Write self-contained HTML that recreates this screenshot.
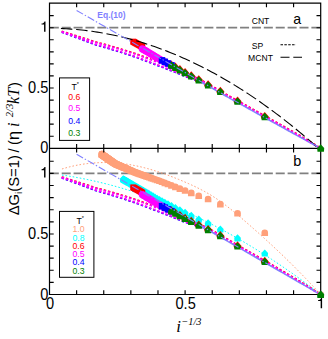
<!DOCTYPE html>
<html><head><meta charset="utf-8"><title>chart</title>
<style>
html,body{margin:0;padding:0;background:#fff;}
body{width:328px;height:339px;overflow:hidden;}
svg{display:block;font-family:"Liberation Sans",sans-serif;}
.si{font-family:"Liberation Serif",serif;font-style:italic;}
</style></head><body>
<svg width="328" height="339" viewBox="0 0 328 339"><defs><clipPath id="ca"><rect x="45.50" y="3.10" width="279.20" height="149.20"/></clipPath><clipPath id="cb"><rect x="45.50" y="148.30" width="279.20" height="150.20"/></clipPath></defs>
<g clip-path="url(#ca)">
<path d="M49.50 27.70 H320.70" stroke="#808080" stroke-width="1.8" stroke-dasharray="9.03 2.86" stroke-dashoffset="-0.3" fill="none"/>
<path d="M61.70 31.24 L64.29 32.04 L66.88 32.84 L69.47 33.65 L72.06 34.46 L74.65 35.27 L77.24 36.09 L79.83 36.91 L82.42 37.74 L85.01 38.57 L87.60 39.41 L90.19 40.25 L92.78 41.10 L95.37 41.93 L97.96 42.60 L100.55 43.29 L103.14 43.99 L105.73 44.69 L108.32 45.41 L110.91 46.14 L113.50 46.88 L116.09 47.63 L118.68 48.40 L121.27 49.17 L123.86 49.96 L126.45 50.75 L129.04 51.56 L131.63 52.38 L134.22 53.21 L136.81 54.10 L139.40 55.03 L141.99 55.96 L144.58 56.91 L147.17 57.86 L149.76 58.82 L152.35 59.80 L154.94 60.78 L157.53 61.76 L160.12 62.78 L162.71 63.83 L165.30 64.88 L167.89 65.95 L170.48 67.03 L173.07 68.13 L175.66 69.23 L178.25 70.34 L180.84 71.47 L183.43 72.60 L186.02 73.65 L188.61 74.57 L191.20 75.57 L193.79 76.65 L196.38 77.80 L198.97 79.02 L201.56 80.32 L204.15 81.67 L206.74 83.09 L209.33 84.57 L211.92 86.11 L214.51 87.60 L217.10 89.09 L219.69 90.57 L222.28 92.06 L224.87 93.54 L227.46 95.00 L230.05 96.44 L232.64 97.89 L235.23 99.33 L237.82 100.78 L240.41 102.22 L243.00 103.67 L245.59 105.11 L248.18 106.55 L250.77 108.00 L253.36 109.44 L255.95 110.89 L258.54 112.33 L261.13 113.77 L263.72 115.22 L266.31 116.66 L268.90 118.11 L271.49 119.55 L274.08 120.98 L276.67 122.41 L279.26 123.84 L281.85 125.30 L284.44 126.77 L287.03 128.25 L289.62 129.72 L292.21 131.19 L294.80 132.67 L297.39 134.14 L299.98 135.61 L302.57 137.12 L305.16 138.68 L307.75 140.24 L310.34 141.80 L312.93 143.36 L315.52 144.93 L318.11 146.49 L320.70 148.05" stroke="#ff0000" stroke-width="1.7" stroke-dasharray="2.4 2.0" fill="none"/>
<path d="M61.70 32.24 L64.03 33.09 L66.36 33.93 L68.69 34.78 L71.02 35.63 L73.34 36.48 L75.67 37.34 L78.00 38.21 L80.33 39.07 L82.65 39.94 L84.98 40.82 L87.31 41.70 L89.64 42.58 L91.97 43.46 L94.29 44.35 L96.62 45.08 L98.95 45.73 L101.28 46.39 L103.60 47.06 L105.93 47.74 L108.26 48.43 L110.59 49.12 L112.92 49.83 L115.24 50.54 L117.57 51.26 L119.90 52.00 L122.23 52.74 L124.55 53.49 L126.88 54.25 L129.21 55.01 L131.54 55.79 L133.87 56.58 L136.19 57.39 L138.52 58.24 L140.85 59.10 L143.18 59.97 L145.50 60.84 L147.83 61.72 L150.16 62.61 L152.49 63.50 L154.82 64.40 L157.14 65.31 L159.47 66.18 L161.80 67.07 L164.13 67.97 L166.45 68.87 L168.78 69.78 L171.11 70.71 L173.44 71.64 L175.77 72.58 L178.09 73.53 L180.42 74.49 L182.75 75.45 L185.08 76.43 L187.41 77.18 L189.73 77.99 L192.06 78.86 L194.39 79.80 L196.72 80.80 L199.04 81.85 L201.37 82.96" stroke="#0000ff" stroke-width="1.7" stroke-dasharray="2.4 2.0" fill="none"/>
<path d="M201.37 82.46 L204.36 83.96 L207.34 85.54 L210.32 87.19 L213.30 88.91 L216.29 90.61 L219.27 92.32 L222.25 94.03 L225.24 95.73 L228.22 97.40 L231.20 99.06 L234.19 100.72 L237.17 102.38 L240.15 104.04 L243.14 105.70 L246.12 107.35 L249.10 109.01 L252.09 110.67 L255.07 112.33 L258.05 113.99 L261.04 115.65 L264.02 117.31 L267.00 118.97 L269.99 120.63 L272.97 122.28 L275.95 123.92 L278.94 125.56 L281.92 127.20 L284.90 128.85 L287.88 130.49 L290.87 132.13 L293.85 133.77 L296.83 135.41 L299.82 137.06 L302.80 138.70 L305.78 140.34 L308.77 141.98 L311.75 143.62 L314.73 145.27 L317.72 146.91 L320.70 148.55" stroke="#8c8cff" stroke-width="1.5" fill="none"/>
<path d="M61.70 31.74 L64.29 32.54 L66.88 33.34 L69.47 34.15 L72.06 34.96 L74.65 35.77 L77.24 36.59 L79.83 37.41 L82.42 38.24 L85.01 39.07 L87.60 39.91 L90.19 40.75 L92.78 41.60 L95.37 42.43 L97.96 43.10 L100.55 43.79 L103.14 44.49 L105.73 45.19 L108.32 45.91 L110.91 46.64 L113.50 47.38 L116.09 48.13 L118.68 48.90 L121.27 49.67 L123.86 50.46 L126.45 51.25 L129.04 52.06 L131.63 52.88 L134.22 53.71 L136.81 54.60 L139.40 55.53 L141.99 56.46 L144.58 57.41 L147.17 58.36 L149.76 59.32 L152.35 60.30 L154.94 61.28 L157.53 62.26 L160.12 63.28 L162.71 64.33 L165.30 65.38 L167.89 66.45 L170.48 67.53 L173.07 68.63 L175.66 69.73 L178.25 70.84 L180.84 71.97 L183.43 73.10 L186.02 74.15 L188.61 75.07 L191.20 76.07 L193.79 77.15 L196.38 78.30 L198.97 79.52 L201.56 80.82 L204.15 82.17 L206.74 83.59 L209.33 85.07 L211.92 86.61 L214.51 88.10 L217.10 89.59 L219.69 91.07 L222.28 92.56 L224.87 94.04 L227.46 95.50 L230.05 96.94 L232.64 98.39 L235.23 99.83 L237.82 101.28 L240.41 102.72 L243.00 104.17 L245.59 105.61 L248.18 107.05 L250.77 108.50 L253.36 109.94 L255.95 111.39 L258.54 112.83 L261.13 114.27 L263.72 115.72 L266.31 117.16 L268.90 118.61 L271.49 120.05 L274.08 121.48 L276.67 122.91 L279.26 124.34 L281.85 125.80 L284.44 127.27 L287.03 128.75 L289.62 130.22 L292.21 131.69 L294.80 133.17 L297.39 134.64 L299.98 136.11 L302.57 137.62 L305.16 139.18 L307.75 140.74 L310.34 142.30 L312.93 143.86 L315.52 145.43 L318.11 146.99 L320.70 148.55" stroke="#ff00ff" stroke-width="1.75" stroke-dasharray="2.4 2.0" fill="none"/>
<path d="M61.70 31.74 L64.03 32.59 L66.36 33.43 L68.69 34.28 L71.02 35.13 L73.34 35.98 L75.67 36.84 L78.00 37.71 L80.33 38.57 L82.65 39.44 L84.98 40.32 L87.31 41.20 L89.64 42.08 L91.97 42.96 L94.29 43.85 L96.62 44.58 L98.95 45.23 L101.28 45.89 L103.60 46.56 L105.93 47.24 L108.26 47.93 L110.59 48.62 L112.92 49.33 L115.24 50.04 L117.57 50.76 L119.90 51.50 L122.23 52.24 L124.55 52.99 L126.88 53.75 L129.21 54.51 L131.54 55.29 L133.87 56.08 L136.19 56.89 L138.52 57.74 L140.85 58.60 L143.18 59.47 L145.50 60.34 L147.83 61.22 L150.16 62.11 L152.49 63.00 L154.82 63.90 L157.14 64.81 L159.47 65.68 L161.80 66.57 L164.13 67.47 L166.45 68.37 L168.78 69.28 L171.11 70.21 L173.44 71.14 L175.77 72.08 L178.09 73.03 L180.42 73.99 L182.75 74.95 L185.08 75.93 L187.41 76.68 L189.73 77.49 L192.06 78.36 L194.39 79.30 L196.72 80.30 L199.04 81.35 L201.37 82.46" stroke="#ff00ff" stroke-width="1.75" stroke-dasharray="2.4 2.0" fill="none"/>
<rect x="130.21" y="38.67" width="6.00" height="6.00" fill="#ff0000"/><rect x="131.05" y="39.14" width="6.00" height="6.00" fill="#ff0000"/><rect x="131.92" y="39.64" width="6.00" height="6.00" fill="#ff0000"/><rect x="132.83" y="40.15" width="6.00" height="6.00" fill="#ff0000"/><rect x="133.78" y="40.69" width="6.00" height="6.00" fill="#ff0000"/><rect x="134.77" y="41.26" width="6.00" height="6.00" fill="#ff0000"/><rect x="135.81" y="41.85" width="6.00" height="6.00" fill="#ff0000"/><rect x="136.90" y="42.47" width="6.00" height="6.00" fill="#ff0000"/><rect x="138.04" y="43.12" width="6.00" height="6.00" fill="#ff0000"/><rect x="139.25" y="43.80" width="6.00" height="6.00" fill="#ff0000"/>
<path d="M171.44 60.44 L175.44 65.14 L174.74 67.34 L168.14 67.34 L167.44 65.14 Z" fill="#ff0000"/><path d="M175.38 62.62 L179.38 67.32 L178.68 69.52 L172.08 69.52 L171.38 67.32 Z" fill="#ff0000"/><path d="M179.88 65.12 L183.88 69.82 L183.18 72.02 L176.58 72.02 L175.88 69.82 Z" fill="#ff0000"/><path d="M185.10 68.03 L189.10 72.73 L188.40 74.93 L181.80 74.93 L181.10 72.73 Z" fill="#ff0000"/><path d="M191.27 71.25 L195.27 75.95 L194.57 78.15 L187.97 78.15 L187.27 75.95 Z" fill="#ff0000"/><path d="M198.75 75.17 L202.75 79.87 L202.05 82.07 L195.45 82.07 L194.75 79.87 Z" fill="#ff0000"/><path d="M208.10 80.19 L212.10 84.89 L211.40 87.09 L204.80 87.09 L204.10 84.89 Z" fill="#ff0000"/><path d="M220.35 86.81 L224.35 91.51 L223.65 93.71 L217.05 93.71 L216.35 91.51 Z" fill="#ff0000"/><path d="M237.54 96.51 L241.54 101.21 L240.84 103.41 L234.24 103.41 L233.54 101.21 Z" fill="#ff0000"/><path d="M264.75 111.88 L268.75 116.58 L268.05 118.78 L261.45 118.78 L260.75 116.58 Z" fill="#ff0000"/>
<circle cx="142.25" cy="48.74" r="3.60" fill="#ff00ff"/><circle cx="143.52" cy="49.51" r="3.60" fill="#ff00ff"/><circle cx="144.86" cy="50.32" r="3.60" fill="#ff00ff"/><circle cx="146.29" cy="51.18" r="3.60" fill="#ff00ff"/><circle cx="147.80" cy="52.09" r="3.60" fill="#ff00ff"/><circle cx="149.41" cy="53.07" r="3.60" fill="#ff00ff"/><circle cx="151.13" cy="54.10" r="3.60" fill="#ff00ff"/><circle cx="152.98" cy="55.22" r="3.60" fill="#ff00ff"/><circle cx="154.97" cy="56.41" r="3.60" fill="#ff00ff"/><circle cx="157.13" cy="57.70" r="3.60" fill="#ff00ff"/><circle cx="159.47" cy="59.00" r="3.60" fill="#ff00ff"/><circle cx="162.02" cy="60.35" r="3.60" fill="#ff00ff"/><circle cx="164.84" cy="61.83" r="3.60" fill="#ff00ff"/><circle cx="167.96" cy="63.49" r="3.60" fill="#ff00ff"/><circle cx="171.44" cy="65.34" r="3.60" fill="#ff00ff"/>
<rect x="158.77" y="57.10" width="6.50" height="6.50" fill="#0000ff"/><rect x="161.59" y="58.58" width="6.50" height="6.50" fill="#0000ff"/><rect x="164.71" y="60.24" width="6.50" height="6.50" fill="#0000ff"/><rect x="168.19" y="62.09" width="6.50" height="6.50" fill="#0000ff"/>
<path d="M171.44 61.39 L174.84 65.00 L174.57 68.74 L168.32 68.74 L168.04 65.00 Z" fill="#007f00"/><path d="M175.38 63.58 L178.78 67.18 L178.51 70.92 L172.25 70.92 L171.98 67.18 Z" fill="#007f00"/><path d="M179.88 66.08 L183.28 69.68 L183.01 73.42 L176.75 73.42 L176.48 69.68 Z" fill="#007f00"/><path d="M185.10 68.98 L188.50 72.59 L188.23 76.33 L181.97 76.33 L181.70 72.59 Z" fill="#007f00"/><path d="M191.27 72.20 L194.67 75.81 L194.40 79.55 L188.14 79.55 L187.87 75.81 Z" fill="#007f00"/><path d="M198.75 76.13 L202.15 79.73 L201.88 83.47 L195.62 83.47 L195.35 79.73 Z" fill="#007f00"/><path d="M208.10 81.15 L211.50 84.75 L211.23 88.49 L204.97 88.49 L204.70 84.75 Z" fill="#007f00"/><path d="M220.35 87.77 L223.75 91.37 L223.47 95.11 L217.22 95.11 L216.95 91.37 Z" fill="#007f00"/><path d="M237.54 97.46 L240.94 101.07 L240.67 104.81 L234.41 104.81 L234.14 101.07 Z" fill="#007f00"/><path d="M264.75 112.83 L268.15 116.44 L267.88 120.18 L261.62 120.18 L261.35 116.44 Z" fill="#007f00"/>
<path d="M60.89 28.52 L63.49 28.63 L66.09 28.76 L68.68 28.91 L71.28 29.09 L73.88 29.29 L76.48 29.51 L79.08 29.75 L81.68 30.02 L84.27 30.31 L86.87 30.62 L89.47 30.95 L92.07 31.31 L94.67 31.69 L97.26 32.09 L99.86 32.51 L102.46 32.96 L105.06 33.43 L107.66 33.92 L110.25 34.43 L112.85 34.96 L115.45 35.52 L118.05 36.10 L120.65 36.70 L123.24 37.33 L125.84 37.97 L128.44 38.64 L131.04 39.34 L133.64 40.05 L136.24 40.79 L138.83 41.55 L141.43 42.33 L144.03 43.13 L146.63 43.96 L149.23 44.81 L151.82 45.68 L154.42 46.57 L157.02 47.49 L159.62 48.42 L162.22 49.39 L164.81 50.37 L167.41 51.37 L170.01 52.40 L172.61 53.45 L175.21 54.52 L177.80 55.62 L180.40 56.74 L183.00 57.88 L185.60 59.04 L188.20 60.22 L190.80 61.43 L193.39 62.66 L195.99 63.91 L198.59 65.19 L201.19 66.48 L203.79 67.80 L206.38 69.14 L208.98 70.51 L211.58 71.90 L214.18 73.30 L216.78 74.73 L219.37 76.19 L221.97 77.66 L224.57 79.16 L227.17 80.68 L229.77 82.23 L232.36 83.79 L234.96 85.38 L237.56 86.99 L240.16 88.62 L242.76 90.28 L245.36 91.96 L247.95 93.66 L250.55 95.38 L253.15 97.12 L255.75 98.89 L258.35 100.68 L260.94 102.49 L263.54 104.33 L266.14 106.18 L268.74 108.06 L271.34 109.96 L273.93 111.89 L276.53 113.83 L279.13 115.80 L281.73 117.79 L284.33 119.81 L286.92 121.84 L289.52 123.90 L292.12 125.98 L294.72 128.09 L297.32 130.21 L299.92 132.36 L302.51 134.53 L305.11 136.72 L307.71 138.94 L310.31 141.18 L312.91 143.44 L315.50 145.72 L318.10 148.02 L320.70 150.35" stroke="#000" stroke-width="1.1" stroke-dasharray="11.5 3.8" fill="none"/>
<path d="M76.62 10.45 L84.76 15.11 L92.89 19.76 L101.03 24.42 L109.16 29.07 L117.30 33.73 L125.44 38.38 L133.57 43.04 L141.71 47.69 L149.84 52.35 L157.98 57.00 L166.12 61.66 L174.25 66.31 L182.39 70.97 L190.52 75.62 L198.66 80.28 L206.80 84.93 L214.93 89.59 L223.07 94.24 L231.20 98.81 L239.34 103.33 L247.48 107.86 L255.61 112.38 L263.75 116.91 L271.88 121.43 L280.02 125.91 L288.16 130.39 L296.29 134.87 L304.43 139.34 L312.56 143.82 L320.70 148.30" stroke="#7f7fff" stroke-width="1.1" stroke-dasharray="7.4 2 1.4 2" fill="none"/>
</g>
<g clip-path="url(#cb)">
<path d="M49.50 173.40 H320.70" stroke="#808080" stroke-width="1.8" stroke-dasharray="9.03 2.86" stroke-dashoffset="-0.3" fill="none"/>
<path d="M61.98 168.98 L64.56 168.22 L67.15 167.50 L69.74 166.83 L72.32 166.21 L74.91 165.64 L77.50 165.12 L80.09 164.65 L82.67 164.23 L85.26 163.85 L87.85 163.52 L90.43 163.25 L93.02 163.01 L95.61 162.83 L98.20 162.69 L100.78 162.60 L103.37 162.55 L105.96 162.55 L108.55 162.60 L111.13 162.69 L113.72 162.83 L116.31 163.01 L118.89 163.23 L121.48 163.50 L124.07 163.81 L126.66 164.17 L129.24 164.57 L131.83 165.01 L134.42 165.50 L137.01 166.02 L139.59 166.59 L142.18 167.20 L144.77 167.85 L147.35 168.53 L149.94 169.26 L152.53 170.02 L155.12 170.82 L157.70 171.65 L160.29 172.51 L162.88 173.41 L165.47 174.33 L168.05 175.28 L170.64 176.25 L173.23 177.25 L175.81 178.27 L178.40 179.31 L180.99 180.38 L183.58 181.46 L186.16 182.58 L188.75 183.71 L191.34 184.88 L193.92 186.08 L196.51 187.32 L199.10 188.60 L201.69 189.93 L204.27 191.32 L206.86 192.76 L209.45 194.27 L212.04 195.84 L214.62 197.48 L217.21 199.20 L219.80 200.98 L222.38 202.83 L224.97 204.74 L227.56 206.72 L230.15 208.75 L232.73 210.83 L235.32 212.95 L237.91 215.10 L240.50 217.29 L243.08 219.51 L245.67 221.74 L248.26 224.00 L250.84 226.27 L253.43 228.55 L256.02 230.84 L258.61 233.15 L261.19 235.48 L263.78 237.81 L266.37 240.16 L268.96 242.53 L271.54 244.91 L274.13 247.32 L276.72 249.74 L279.30 252.19 L281.89 254.65 L284.48 257.14 L287.07 259.66 L289.65 262.19 L292.24 264.76 L294.83 267.34 L297.41 269.95 L300.00 272.58 L302.59 275.24 L305.18 277.92 L307.76 280.63 L310.35 283.36 L312.94 286.11 L315.53 288.88 L318.11 291.68 L320.70 294.50" stroke="#ffa07a" stroke-width="1" stroke-dasharray="1.6 2" fill="none"/>
<path d="M61.98 175.04 L64.56 175.43 L67.15 175.83 L69.74 176.25 L72.32 176.68 L74.91 177.14 L77.50 177.61 L80.09 178.09 L82.67 178.59 L85.26 179.11 L87.85 179.64 L90.43 180.19 L93.02 180.76 L95.61 181.34 L98.20 181.94 L100.78 182.56 L103.37 183.19 L105.96 183.84 L108.55 184.50 L111.13 185.18 L113.72 185.88 L116.31 186.59 L118.89 187.32 L121.48 188.07 L124.07 188.83 L126.66 189.61 L129.24 190.41 L131.83 191.22 L134.42 192.05 L137.01 192.89 L139.59 193.75 L142.18 194.63 L144.77 195.52 L147.35 196.43 L149.94 197.35 L152.53 198.29 L155.12 199.25 L157.70 200.23 L160.29 201.22 L162.88 202.23 L165.47 203.25 L168.05 204.29 L170.64 205.34 L173.23 206.42 L175.81 207.51 L178.40 208.61 L180.99 209.73 L183.58 210.87 L186.16 212.02 L188.75 213.19 L191.34 214.38 L193.92 215.58 L196.51 216.80 L199.10 218.04 L201.69 219.29 L204.27 220.56 L206.86 221.84 L209.45 223.14 L212.04 224.46 L214.62 225.79 L217.21 227.14 L219.80 228.51 L222.38 229.89 L224.97 231.29 L227.56 232.70 L230.15 234.13 L232.73 235.58 L235.32 237.04 L237.91 238.52 L240.50 240.02 L243.08 241.53 L245.67 243.06 L248.26 244.61 L250.84 246.17 L253.43 247.75 L256.02 249.34 L258.61 250.95 L261.19 252.58 L263.78 254.22 L266.37 255.88 L268.96 257.56 L271.54 259.25 L274.13 260.96 L276.72 262.68 L279.30 264.42 L281.89 266.18 L284.48 267.96 L287.07 269.75 L289.65 271.55 L292.24 273.37 L294.83 275.21 L297.41 277.07 L300.00 278.94 L302.59 280.83 L305.18 282.73 L307.76 284.65 L310.35 286.59 L312.94 288.54 L315.53 290.51 L318.11 292.50 L320.70 294.50" stroke="#00ffff" stroke-width="1" stroke-dasharray="1.6 2" fill="none"/>
<path d="M61.70 176.96 L64.29 177.76 L66.88 178.57 L69.47 179.37 L72.06 180.19 L74.65 181.01 L77.24 181.83 L79.83 182.66 L82.42 183.49 L85.01 184.33 L87.60 185.17 L90.19 186.01 L92.78 186.86 L95.37 187.70 L97.96 188.37 L100.55 189.06 L103.14 189.76 L105.73 190.47 L108.32 191.20 L110.91 191.93 L113.50 192.67 L116.09 193.43 L118.68 194.19 L121.27 194.97 L123.86 195.76 L126.45 196.56 L129.04 197.37 L131.63 198.19 L134.22 199.03 L136.81 199.93 L139.40 200.85 L141.99 201.79 L144.58 202.74 L147.17 203.70 L149.76 204.67 L152.35 205.64 L154.94 206.63 L157.53 207.61 L160.12 208.64 L162.71 209.69 L165.30 210.75 L167.89 211.82 L170.48 212.91 L173.07 214.00 L175.66 215.11 L178.25 216.23 L180.84 217.36 L183.43 218.50 L186.02 219.49 L188.61 220.24 L191.20 221.06 L193.79 221.97 L196.38 222.96 L198.97 224.01 L201.56 225.13 L204.15 226.32 L206.74 227.57 L209.33 228.88 L211.92 230.25 L214.51 231.73 L217.10 233.22 L219.69 234.71 L222.28 236.20 L224.87 237.70 L227.46 239.19 L230.05 240.68 L232.64 242.17 L235.23 243.67 L237.82 245.16 L240.41 246.65 L243.00 248.14 L245.59 249.63 L248.18 251.13 L250.77 252.62 L253.36 254.11 L255.95 255.60 L258.54 257.10 L261.13 258.59 L263.72 260.08 L266.31 261.57 L268.90 263.07 L271.49 264.56 L274.08 266.05 L276.67 267.54 L279.26 269.03 L281.85 270.56 L284.44 272.09 L287.03 273.63 L289.62 275.17 L292.21 276.70 L294.80 278.24 L297.39 279.77 L299.98 281.31 L302.57 282.88 L305.16 284.50 L307.75 286.13 L310.34 287.75 L312.93 289.38 L315.52 291.00 L318.11 292.63 L320.70 294.25" stroke="#ff0000" stroke-width="1.7" stroke-dasharray="2.4 2.0" fill="none"/>
<path d="M61.70 177.96 L64.03 178.81 L66.36 179.65 L68.69 180.50 L71.02 181.36 L73.34 182.22 L75.67 183.08 L78.00 183.95 L80.33 184.82 L82.65 185.69 L84.98 186.57 L87.31 187.45 L89.64 188.34 L91.97 189.23 L94.29 190.12 L96.62 190.85 L98.95 191.50 L101.28 192.17 L103.60 192.84 L105.93 193.52 L108.26 194.21 L110.59 194.91 L112.92 195.62 L115.24 196.33 L117.57 197.06 L119.90 197.79 L122.23 198.54 L124.55 199.29 L126.88 200.05 L129.21 200.82 L131.54 201.60 L133.87 202.39 L136.19 203.22 L138.52 204.07 L140.85 204.93 L143.18 205.80 L145.50 206.67 L147.83 207.56 L150.16 208.45 L152.49 209.35 L154.82 210.25 L157.14 211.16 L159.47 212.04 L161.80 212.93 L164.13 213.83 L166.45 214.74 L168.78 215.66 L171.11 216.58 L173.44 217.52 L175.77 218.46 L178.09 219.42 L180.42 220.38 L182.75 221.35 L185.08 222.33 L187.41 222.92 L189.73 223.58 L192.06 224.30 L194.39 225.09 L196.72 225.93 L199.04 226.83 L201.37 227.79" stroke="#0000ff" stroke-width="1.7" stroke-dasharray="2.4 2.0" fill="none"/>
<path d="M201.37 227.29 L204.36 228.59 L207.34 229.98 L210.32 231.44 L213.30 233.03 L216.29 234.75 L219.27 236.46 L222.25 238.17 L225.24 239.89 L228.22 241.60 L231.20 243.32 L234.19 245.03 L237.17 246.75 L240.15 248.46 L243.14 250.18 L246.12 251.89 L249.10 253.60 L252.09 255.32 L255.07 257.03 L258.05 258.75 L261.04 260.46 L264.02 262.18 L267.00 263.89 L269.99 265.60 L272.97 267.32 L275.95 269.03 L278.94 270.75 L281.92 272.46 L284.90 274.18 L287.88 275.89 L290.87 277.61 L293.85 279.32 L296.83 281.03 L299.82 282.75 L302.80 284.46 L305.78 286.18 L308.77 287.89 L311.75 289.61 L314.73 291.32 L317.72 293.04 L320.70 294.75" stroke="#8c8cff" stroke-width="1.5" fill="none"/>
<path d="M61.70 177.46 L64.29 178.26 L66.88 179.07 L69.47 179.87 L72.06 180.69 L74.65 181.51 L77.24 182.33 L79.83 183.16 L82.42 183.99 L85.01 184.83 L87.60 185.67 L90.19 186.51 L92.78 187.36 L95.37 188.20 L97.96 188.87 L100.55 189.56 L103.14 190.26 L105.73 190.97 L108.32 191.70 L110.91 192.43 L113.50 193.17 L116.09 193.93 L118.68 194.69 L121.27 195.47 L123.86 196.26 L126.45 197.06 L129.04 197.87 L131.63 198.69 L134.22 199.53 L136.81 200.43 L139.40 201.35 L141.99 202.29 L144.58 203.24 L147.17 204.20 L149.76 205.17 L152.35 206.14 L154.94 207.13 L157.53 208.11 L160.12 209.14 L162.71 210.19 L165.30 211.25 L167.89 212.32 L170.48 213.41 L173.07 214.50 L175.66 215.61 L178.25 216.73 L180.84 217.86 L183.43 219.00 L186.02 219.99 L188.61 220.74 L191.20 221.56 L193.79 222.47 L196.38 223.46 L198.97 224.51 L201.56 225.63 L204.15 226.82 L206.74 228.07 L209.33 229.38 L211.92 230.75 L214.51 232.23 L217.10 233.72 L219.69 235.21 L222.28 236.70 L224.87 238.20 L227.46 239.69 L230.05 241.18 L232.64 242.67 L235.23 244.17 L237.82 245.66 L240.41 247.15 L243.00 248.64 L245.59 250.13 L248.18 251.63 L250.77 253.12 L253.36 254.61 L255.95 256.10 L258.54 257.60 L261.13 259.09 L263.72 260.58 L266.31 262.07 L268.90 263.57 L271.49 265.06 L274.08 266.55 L276.67 268.04 L279.26 269.53 L281.85 271.06 L284.44 272.59 L287.03 274.13 L289.62 275.67 L292.21 277.20 L294.80 278.74 L297.39 280.27 L299.98 281.81 L302.57 283.38 L305.16 285.00 L307.75 286.63 L310.34 288.25 L312.93 289.88 L315.52 291.50 L318.11 293.13 L320.70 294.75" stroke="#ff00ff" stroke-width="1.75" stroke-dasharray="2.4 2.0" fill="none"/>
<path d="M61.70 177.46 L64.03 178.31 L66.36 179.15 L68.69 180.00 L71.02 180.86 L73.34 181.72 L75.67 182.58 L78.00 183.45 L80.33 184.32 L82.65 185.19 L84.98 186.07 L87.31 186.95 L89.64 187.84 L91.97 188.73 L94.29 189.62 L96.62 190.35 L98.95 191.00 L101.28 191.67 L103.60 192.34 L105.93 193.02 L108.26 193.71 L110.59 194.41 L112.92 195.12 L115.24 195.83 L117.57 196.56 L119.90 197.29 L122.23 198.04 L124.55 198.79 L126.88 199.55 L129.21 200.32 L131.54 201.10 L133.87 201.89 L136.19 202.72 L138.52 203.57 L140.85 204.43 L143.18 205.30 L145.50 206.17 L147.83 207.06 L150.16 207.95 L152.49 208.85 L154.82 209.75 L157.14 210.66 L159.47 211.54 L161.80 212.43 L164.13 213.33 L166.45 214.24 L168.78 215.16 L171.11 216.08 L173.44 217.02 L175.77 217.96 L178.09 218.92 L180.42 219.88 L182.75 220.85 L185.08 221.83 L187.41 222.42 L189.73 223.08 L192.06 223.80 L194.39 224.59 L196.72 225.43 L199.04 226.33 L201.37 227.29" stroke="#ff00ff" stroke-width="1.75" stroke-dasharray="2.4 2.0" fill="none"/>
<path d="M98.43 157.27 V153.97 A3.30 3.30 0 0 1 105.03 153.97 V157.27 Z" fill="#ffa07a"/><path d="M98.55 157.36 V154.06 A3.30 3.30 0 0 1 105.15 154.06 V157.36 Z" fill="#ffa07a"/><path d="M98.68 157.45 V154.15 A3.30 3.30 0 0 1 105.28 154.15 V157.45 Z" fill="#ffa07a"/><path d="M98.81 157.54 V154.24 A3.30 3.30 0 0 1 105.41 154.24 V157.54 Z" fill="#ffa07a"/><path d="M98.94 157.63 V154.33 A3.30 3.30 0 0 1 105.54 154.33 V157.63 Z" fill="#ffa07a"/><path d="M99.07 157.72 V154.42 A3.30 3.30 0 0 1 105.67 154.42 V157.72 Z" fill="#ffa07a"/><path d="M99.20 157.81 V154.51 A3.30 3.30 0 0 1 105.80 154.51 V157.81 Z" fill="#ffa07a"/><path d="M99.33 157.90 V154.60 A3.30 3.30 0 0 1 105.93 154.60 V157.90 Z" fill="#ffa07a"/><path d="M99.46 158.00 V154.70 A3.30 3.30 0 0 1 106.06 154.70 V158.00 Z" fill="#ffa07a"/><path d="M99.60 158.09 V154.79 A3.30 3.30 0 0 1 106.20 154.79 V158.09 Z" fill="#ffa07a"/><path d="M99.74 158.19 V154.89 A3.30 3.30 0 0 1 106.34 154.89 V158.19 Z" fill="#ffa07a"/><path d="M99.87 158.28 V154.98 A3.30 3.30 0 0 1 106.47 154.98 V158.28 Z" fill="#ffa07a"/><path d="M100.01 158.38 V155.08 A3.30 3.30 0 0 1 106.61 155.08 V158.38 Z" fill="#ffa07a"/><path d="M100.15 158.48 V155.18 A3.30 3.30 0 0 1 106.75 155.18 V158.48 Z" fill="#ffa07a"/><path d="M100.30 158.58 V155.28 A3.30 3.30 0 0 1 106.90 155.28 V158.58 Z" fill="#ffa07a"/><path d="M100.44 158.68 V155.38 A3.30 3.30 0 0 1 107.04 155.38 V158.68 Z" fill="#ffa07a"/><path d="M100.59 158.78 V155.48 A3.30 3.30 0 0 1 107.19 155.48 V158.78 Z" fill="#ffa07a"/><path d="M100.73 158.88 V155.58 A3.30 3.30 0 0 1 107.33 155.58 V158.88 Z" fill="#ffa07a"/><path d="M100.88 158.99 V155.69 A3.30 3.30 0 0 1 107.48 155.69 V158.99 Z" fill="#ffa07a"/><path d="M101.03 159.09 V155.79 A3.30 3.30 0 0 1 107.63 155.79 V159.09 Z" fill="#ffa07a"/><path d="M101.18 159.20 V155.90 A3.30 3.30 0 0 1 107.78 155.90 V159.20 Z" fill="#ffa07a"/><path d="M101.34 159.31 V156.01 A3.30 3.30 0 0 1 107.94 156.01 V159.31 Z" fill="#ffa07a"/><path d="M101.49 159.41 V156.11 A3.30 3.30 0 0 1 108.09 156.11 V159.41 Z" fill="#ffa07a"/><path d="M101.65 159.52 V156.22 A3.30 3.30 0 0 1 108.25 156.22 V159.52 Z" fill="#ffa07a"/><path d="M101.81 159.63 V156.33 A3.30 3.30 0 0 1 108.41 156.33 V159.63 Z" fill="#ffa07a"/><path d="M101.97 159.75 V156.45 A3.30 3.30 0 0 1 108.57 156.45 V159.75 Z" fill="#ffa07a"/><path d="M102.13 159.86 V156.56 A3.30 3.30 0 0 1 108.73 156.56 V159.86 Z" fill="#ffa07a"/><path d="M102.30 159.98 V156.68 A3.30 3.30 0 0 1 108.90 156.68 V159.98 Z" fill="#ffa07a"/><path d="M102.46 160.09 V156.79 A3.30 3.30 0 0 1 109.06 156.79 V160.09 Z" fill="#ffa07a"/><path d="M102.63 160.21 V156.91 A3.30 3.30 0 0 1 109.23 156.91 V160.21 Z" fill="#ffa07a"/><path d="M102.80 160.33 V157.03 A3.30 3.30 0 0 1 109.40 157.03 V160.33 Z" fill="#ffa07a"/><path d="M102.97 160.45 V157.15 A3.30 3.30 0 0 1 109.57 157.15 V160.45 Z" fill="#ffa07a"/><path d="M103.15 160.57 V157.27 A3.30 3.30 0 0 1 109.75 157.27 V160.57 Z" fill="#ffa07a"/><path d="M103.33 160.69 V157.39 A3.30 3.30 0 0 1 109.93 157.39 V160.69 Z" fill="#ffa07a"/><path d="M103.50 160.82 V157.52 A3.30 3.30 0 0 1 110.10 157.52 V160.82 Z" fill="#ffa07a"/><path d="M103.69 160.95 V157.65 A3.30 3.30 0 0 1 110.29 157.65 V160.95 Z" fill="#ffa07a"/><path d="M103.87 161.08 V157.78 A3.30 3.30 0 0 1 110.47 157.78 V161.08 Z" fill="#ffa07a"/><path d="M104.06 161.21 V157.91 A3.30 3.30 0 0 1 110.66 157.91 V161.21 Z" fill="#ffa07a"/><path d="M104.24 161.34 V158.04 A3.30 3.30 0 0 1 110.84 158.04 V161.34 Z" fill="#ffa07a"/><path d="M104.43 161.47 V158.17 A3.30 3.30 0 0 1 111.03 158.17 V161.47 Z" fill="#ffa07a"/><path d="M104.63 161.61 V158.31 A3.30 3.30 0 0 1 111.23 158.31 V161.61 Z" fill="#ffa07a"/><path d="M104.82 161.74 V158.44 A3.30 3.30 0 0 1 111.42 158.44 V161.74 Z" fill="#ffa07a"/><path d="M105.02 161.88 V158.58 A3.30 3.30 0 0 1 111.62 158.58 V161.88 Z" fill="#ffa07a"/><path d="M105.22 162.02 V158.72 A3.30 3.30 0 0 1 111.82 158.72 V162.02 Z" fill="#ffa07a"/><path d="M105.43 162.16 V158.86 A3.30 3.30 0 0 1 112.03 158.86 V162.16 Z" fill="#ffa07a"/><path d="M105.64 162.31 V159.01 A3.30 3.30 0 0 1 112.24 159.01 V162.31 Z" fill="#ffa07a"/><path d="M105.85 162.46 V159.16 A3.30 3.30 0 0 1 112.45 159.16 V162.46 Z" fill="#ffa07a"/><path d="M106.06 162.60 V159.30 A3.30 3.30 0 0 1 112.66 159.30 V162.60 Z" fill="#ffa07a"/><path d="M106.27 162.76 V159.46 A3.30 3.30 0 0 1 112.87 159.46 V162.76 Z" fill="#ffa07a"/><path d="M106.49 162.91 V159.61 A3.30 3.30 0 0 1 113.09 159.61 V162.91 Z" fill="#ffa07a"/><path d="M106.72 163.06 V159.76 A3.30 3.30 0 0 1 113.32 159.76 V163.06 Z" fill="#ffa07a"/><path d="M106.94 163.22 V159.92 A3.30 3.30 0 0 1 113.54 159.92 V163.22 Z" fill="#ffa07a"/><path d="M107.17 163.38 V160.08 A3.30 3.30 0 0 1 113.77 160.08 V163.38 Z" fill="#ffa07a"/><path d="M107.40 163.55 V160.25 A3.30 3.30 0 0 1 114.00 160.25 V163.55 Z" fill="#ffa07a"/><path d="M107.64 163.71 V160.41 A3.30 3.30 0 0 1 114.24 160.41 V163.71 Z" fill="#ffa07a"/><path d="M107.88 163.88 V160.58 A3.30 3.30 0 0 1 114.48 160.58 V163.88 Z" fill="#ffa07a"/><path d="M108.12 164.05 V160.75 A3.30 3.30 0 0 1 114.72 160.75 V164.05 Z" fill="#ffa07a"/><path d="M108.37 164.22 V160.92 A3.30 3.30 0 0 1 114.97 160.92 V164.22 Z" fill="#ffa07a"/><path d="M108.62 164.40 V161.10 A3.30 3.30 0 0 1 115.22 161.10 V164.40 Z" fill="#ffa07a"/><path d="M108.88 164.58 V161.28 A3.30 3.30 0 0 1 115.48 161.28 V164.58 Z" fill="#ffa07a"/><path d="M109.14 164.76 V161.46 A3.30 3.30 0 0 1 115.74 161.46 V164.76 Z" fill="#ffa07a"/><path d="M109.40 164.94 V161.64 A3.30 3.30 0 0 1 116.00 161.64 V164.94 Z" fill="#ffa07a"/><path d="M109.67 165.13 V161.83 A3.30 3.30 0 0 1 116.27 161.83 V165.13 Z" fill="#ffa07a"/><path d="M109.95 165.32 V162.02 A3.30 3.30 0 0 1 116.55 162.02 V165.32 Z" fill="#ffa07a"/><path d="M110.23 165.52 V162.22 A3.30 3.30 0 0 1 116.83 162.22 V165.52 Z" fill="#ffa07a"/><path d="M110.51 165.71 V162.41 A3.30 3.30 0 0 1 117.11 162.41 V165.71 Z" fill="#ffa07a"/><path d="M110.80 165.92 V162.62 A3.30 3.30 0 0 1 117.40 162.62 V165.92 Z" fill="#ffa07a"/><path d="M111.09 166.12 V162.82 A3.30 3.30 0 0 1 117.69 162.82 V166.12 Z" fill="#ffa07a"/><path d="M111.39 166.33 V163.03 A3.30 3.30 0 0 1 117.99 163.03 V166.33 Z" fill="#ffa07a"/><path d="M111.69 166.54 V163.24 A3.30 3.30 0 0 1 118.29 163.24 V166.54 Z" fill="#ffa07a"/><path d="M112.00 166.76 V163.46 A3.30 3.30 0 0 1 118.60 163.46 V166.76 Z" fill="#ffa07a"/><path d="M112.32 166.95 V163.65 A3.30 3.30 0 0 1 118.92 163.65 V166.95 Z" fill="#ffa07a"/><path d="M112.64 167.09 V163.79 A3.30 3.30 0 0 1 119.24 163.79 V167.09 Z" fill="#ffa07a"/><path d="M112.97 167.24 V163.94 A3.30 3.30 0 0 1 119.57 163.94 V167.24 Z" fill="#ffa07a"/><path d="M113.31 167.38 V164.08 A3.30 3.30 0 0 1 119.91 164.08 V167.38 Z" fill="#ffa07a"/><path d="M113.65 167.53 V164.23 A3.30 3.30 0 0 1 120.25 164.23 V167.53 Z" fill="#ffa07a"/><path d="M114.00 167.68 V164.38 A3.30 3.30 0 0 1 120.60 164.38 V167.68 Z" fill="#ffa07a"/><path d="M114.36 167.84 V164.54 A3.30 3.30 0 0 1 120.96 164.54 V167.84 Z" fill="#ffa07a"/><path d="M114.72 168.00 V164.70 A3.30 3.30 0 0 1 121.32 164.70 V168.00 Z" fill="#ffa07a"/><path d="M115.09 168.16 V164.86 A3.30 3.30 0 0 1 121.69 164.86 V168.16 Z" fill="#ffa07a"/><path d="M115.47 168.33 V165.03 A3.30 3.30 0 0 1 122.07 165.03 V168.33 Z" fill="#ffa07a"/><path d="M115.86 168.50 V165.20 A3.30 3.30 0 0 1 122.46 165.20 V168.50 Z" fill="#ffa07a"/><path d="M116.26 168.67 V165.37 A3.30 3.30 0 0 1 122.86 165.37 V168.67 Z" fill="#ffa07a"/><path d="M116.67 168.85 V165.55 A3.30 3.30 0 0 1 123.27 165.55 V168.85 Z" fill="#ffa07a"/><path d="M117.09 169.03 V165.73 A3.30 3.30 0 0 1 123.69 165.73 V169.03 Z" fill="#ffa07a"/><path d="M117.51 169.21 V165.91 A3.30 3.30 0 0 1 124.11 165.91 V169.21 Z" fill="#ffa07a"/><path d="M117.95 169.41 V166.11 A3.30 3.30 0 0 1 124.55 166.11 V169.41 Z" fill="#ffa07a"/><path d="M118.40 169.60 V166.30 A3.30 3.30 0 0 1 125.00 166.30 V169.60 Z" fill="#ffa07a"/><path d="M118.86 169.80 V166.50 A3.30 3.30 0 0 1 125.46 166.50 V169.80 Z" fill="#ffa07a"/><path d="M119.33 170.01 V166.71 A3.30 3.30 0 0 1 125.93 166.71 V170.01 Z" fill="#ffa07a"/><path d="M119.82 170.22 V166.92 A3.30 3.30 0 0 1 126.42 166.92 V170.22 Z" fill="#ffa07a"/><path d="M120.31 170.44 V167.14 A3.30 3.30 0 0 1 126.91 167.14 V170.44 Z" fill="#ffa07a"/><path d="M120.82 170.66 V167.36 A3.30 3.30 0 0 1 127.42 167.36 V170.66 Z" fill="#ffa07a"/><path d="M121.35 170.89 V167.59 A3.30 3.30 0 0 1 127.95 167.59 V170.89 Z" fill="#ffa07a"/><path d="M121.89 171.12 V167.82 A3.30 3.30 0 0 1 128.49 167.82 V171.12 Z" fill="#ffa07a"/><path d="M122.45 171.37 V168.07 A3.30 3.30 0 0 1 129.05 168.07 V171.37 Z" fill="#ffa07a"/><path d="M123.02 171.62 V168.32 A3.30 3.30 0 0 1 129.62 168.32 V171.62 Z" fill="#ffa07a"/><path d="M123.61 171.87 V168.57 A3.30 3.30 0 0 1 130.21 168.57 V171.87 Z" fill="#ffa07a"/><path d="M124.22 172.14 V168.84 A3.30 3.30 0 0 1 130.82 168.84 V172.14 Z" fill="#ffa07a"/><path d="M124.85 172.41 V169.11 A3.30 3.30 0 0 1 131.45 169.11 V172.41 Z" fill="#ffa07a"/><path d="M125.50 172.70 V169.40 A3.30 3.30 0 0 1 132.10 169.40 V172.70 Z" fill="#ffa07a"/><path d="M126.17 172.99 V169.69 A3.30 3.30 0 0 1 132.77 169.69 V172.99 Z" fill="#ffa07a"/><path d="M126.87 173.29 V169.99 A3.30 3.30 0 0 1 133.47 169.99 V173.29 Z" fill="#ffa07a"/><path d="M127.59 173.61 V170.31 A3.30 3.30 0 0 1 134.19 170.31 V173.61 Z" fill="#ffa07a"/><path d="M128.33 173.93 V170.63 A3.30 3.30 0 0 1 134.93 170.63 V173.93 Z" fill="#ffa07a"/><path d="M129.11 174.27 V170.97 A3.30 3.30 0 0 1 135.71 170.97 V174.27 Z" fill="#ffa07a"/><path d="M129.91 174.62 V171.32 A3.30 3.30 0 0 1 136.51 171.32 V174.62 Z" fill="#ffa07a"/><path d="M130.75 174.99 V171.69 A3.30 3.30 0 0 1 137.35 171.69 V174.99 Z" fill="#ffa07a"/><path d="M131.62 175.37 V172.07 A3.30 3.30 0 0 1 138.22 172.07 V175.37 Z" fill="#ffa07a"/><path d="M132.53 175.70 V172.40 A3.30 3.30 0 0 1 139.13 172.40 V175.70 Z" fill="#ffa07a"/><path d="M133.48 176.03 V172.73 A3.30 3.30 0 0 1 140.08 172.73 V176.03 Z" fill="#ffa07a"/><path d="M134.47 176.39 V173.09 A3.30 3.30 0 0 1 141.07 173.09 V176.39 Z" fill="#ffa07a"/><path d="M135.51 176.76 V173.46 A3.30 3.30 0 0 1 142.11 173.46 V176.76 Z" fill="#ffa07a"/><path d="M136.60 177.15 V173.85 A3.30 3.30 0 0 1 143.20 173.85 V177.15 Z" fill="#ffa07a"/><path d="M137.74 177.55 V174.25 A3.30 3.30 0 0 1 144.34 174.25 V177.55 Z" fill="#ffa07a"/><path d="M138.95 177.98 V174.68 A3.30 3.30 0 0 1 145.55 174.68 V177.98 Z" fill="#ffa07a"/><path d="M140.22 178.43 V175.13 A3.30 3.30 0 0 1 146.82 175.13 V178.43 Z" fill="#ffa07a"/><path d="M141.56 178.91 V175.61 A3.30 3.30 0 0 1 148.16 175.61 V178.91 Z" fill="#ffa07a"/><path d="M142.99 179.42 V176.12 A3.30 3.30 0 0 1 149.59 176.12 V179.42 Z" fill="#ffa07a"/><path d="M144.50 179.96 V176.66 A3.30 3.30 0 0 1 151.10 176.66 V179.96 Z" fill="#ffa07a"/><path d="M146.11 180.53 V177.23 A3.30 3.30 0 0 1 152.71 177.23 V180.53 Z" fill="#ffa07a"/><path d="M147.83 181.14 V177.84 A3.30 3.30 0 0 1 154.43 177.84 V181.14 Z" fill="#ffa07a"/><path d="M149.68 181.80 V178.50 A3.30 3.30 0 0 1 156.28 178.50 V181.80 Z" fill="#ffa07a"/><path d="M151.67 182.51 V179.21 A3.30 3.30 0 0 1 158.27 179.21 V182.51 Z" fill="#ffa07a"/><path d="M153.83 183.28 V179.98 A3.30 3.30 0 0 1 160.43 179.98 V183.28 Z" fill="#ffa07a"/><path d="M156.17 184.11 V180.81 A3.30 3.30 0 0 1 162.77 180.81 V184.11 Z" fill="#ffa07a"/><path d="M158.72 185.08 V181.78 A3.30 3.30 0 0 1 165.32 181.78 V185.08 Z" fill="#ffa07a"/><path d="M161.54 186.15 V182.85 A3.30 3.30 0 0 1 168.14 182.85 V186.15 Z" fill="#ffa07a"/><path d="M164.66 187.35 V184.05 A3.30 3.30 0 0 1 171.26 184.05 V187.35 Z" fill="#ffa07a"/><path d="M168.14 188.68 V185.38 A3.30 3.30 0 0 1 174.74 185.38 V188.68 Z" fill="#ffa07a"/><path d="M172.08 190.19 V186.89 A3.30 3.30 0 0 1 178.68 186.89 V190.19 Z" fill="#ffa07a"/><path d="M176.58 191.91 V188.61 A3.30 3.30 0 0 1 183.18 188.61 V191.91 Z" fill="#ffa07a"/><path d="M181.80 193.87 V190.57 A3.30 3.30 0 0 1 188.40 190.57 V193.87 Z" fill="#ffa07a"/><path d="M187.97 196.18 V192.88 A3.30 3.30 0 0 1 194.57 192.88 V196.18 Z" fill="#ffa07a"/><path d="M195.45 198.98 V195.68 A3.30 3.30 0 0 1 202.05 195.68 V198.98 Z" fill="#ffa07a"/><path d="M204.80 202.25 V198.95 A3.30 3.30 0 0 1 211.40 198.95 V202.25 Z" fill="#ffa07a"/><path d="M217.05 207.39 V204.09 A3.30 3.30 0 0 1 223.65 204.09 V207.39 Z" fill="#ffa07a"/><path d="M234.24 216.54 V213.24 A3.30 3.30 0 0 1 240.84 213.24 V216.54 Z" fill="#ffa07a"/><path d="M261.45 236.00 V232.70 A3.30 3.30 0 0 1 268.05 232.70 V236.00 Z" fill="#ffa07a"/><path d="M317.40 297.80 V294.50 A3.30 3.30 0 0 1 324.00 294.50 V297.80 Z" fill="#ffa07a"/>
<path d="M123.12 175.20 L126.42 178.69 L126.15 182.32 L120.08 182.32 L119.82 178.69 Z" fill="#00ffff"/><path d="M123.61 175.48 L126.91 178.98 L126.65 182.61 L120.58 182.61 L120.31 178.98 Z" fill="#00ffff"/><path d="M124.12 175.77 L127.42 179.27 L127.16 182.90 L121.09 182.90 L120.82 179.27 Z" fill="#00ffff"/><path d="M124.65 176.07 L127.95 179.57 L127.69 183.20 L121.61 183.20 L121.35 179.57 Z" fill="#00ffff"/><path d="M125.19 176.38 L128.49 179.88 L128.23 183.51 L122.15 183.51 L121.89 179.88 Z" fill="#00ffff"/><path d="M125.75 176.70 L129.05 180.20 L128.78 183.83 L122.71 183.83 L122.45 180.20 Z" fill="#00ffff"/><path d="M126.32 177.03 L129.62 180.53 L129.36 184.16 L123.28 184.16 L123.02 180.53 Z" fill="#00ffff"/><path d="M126.91 177.37 L130.21 180.86 L129.95 184.49 L123.87 184.49 L123.61 180.86 Z" fill="#00ffff"/><path d="M127.52 177.71 L130.82 181.21 L130.56 184.84 L124.48 184.84 L124.22 181.21 Z" fill="#00ffff"/><path d="M128.15 178.07 L131.45 181.57 L131.19 185.20 L125.11 185.20 L124.85 181.57 Z" fill="#00ffff"/><path d="M128.80 178.45 L132.10 181.94 L131.84 185.57 L125.76 185.57 L125.50 181.94 Z" fill="#00ffff"/><path d="M129.47 178.83 L132.77 182.33 L132.51 185.96 L126.44 185.96 L126.17 182.33 Z" fill="#00ffff"/><path d="M130.17 179.23 L133.47 182.73 L133.20 186.36 L127.13 186.36 L126.87 182.73 Z" fill="#00ffff"/><path d="M130.89 179.64 L134.19 183.14 L133.92 186.77 L127.85 186.77 L127.59 183.14 Z" fill="#00ffff"/><path d="M131.63 180.07 L134.93 183.56 L134.67 187.19 L128.60 187.19 L128.33 183.56 Z" fill="#00ffff"/><path d="M132.41 180.51 L135.71 184.01 L135.44 187.64 L129.37 187.64 L129.11 184.01 Z" fill="#00ffff"/><path d="M133.21 180.97 L136.51 184.47 L136.25 188.10 L130.18 188.10 L129.91 184.47 Z" fill="#00ffff"/><path d="M134.05 181.45 L137.35 184.95 L137.09 188.58 L131.01 188.58 L130.75 184.95 Z" fill="#00ffff"/><path d="M134.92 181.95 L138.22 185.44 L137.96 189.07 L131.89 189.07 L131.62 185.44 Z" fill="#00ffff"/><path d="M135.83 182.46 L139.13 185.96 L138.87 189.59 L132.80 189.59 L132.53 185.96 Z" fill="#00ffff"/><path d="M136.78 183.01 L140.08 186.51 L139.82 190.14 L133.74 190.14 L133.48 186.51 Z" fill="#00ffff"/><path d="M137.77 183.57 L141.07 187.07 L140.81 190.70 L134.74 190.70 L134.47 187.07 Z" fill="#00ffff"/><path d="M138.81 184.17 L142.11 187.67 L141.85 191.30 L135.77 191.30 L135.51 187.67 Z" fill="#00ffff"/><path d="M139.90 184.79 L143.20 188.29 L142.94 191.92 L136.86 191.92 L136.60 188.29 Z" fill="#00ffff"/><path d="M141.04 185.44 L144.34 188.94 L144.08 192.57 L138.01 192.57 L137.74 188.94 Z" fill="#00ffff"/><path d="M142.25 186.13 L145.55 189.63 L145.29 193.26 L139.21 193.26 L138.95 189.63 Z" fill="#00ffff"/><path d="M143.52 186.86 L146.82 190.36 L146.56 193.99 L140.48 193.99 L140.22 190.36 Z" fill="#00ffff"/><path d="M144.86 187.63 L148.16 191.12 L147.90 194.75 L141.83 194.75 L141.56 191.12 Z" fill="#00ffff"/><path d="M146.29 188.44 L149.59 191.94 L149.32 195.57 L143.25 195.57 L142.99 191.94 Z" fill="#00ffff"/><path d="M147.80 189.31 L151.10 192.80 L150.84 196.43 L144.76 196.43 L144.50 192.80 Z" fill="#00ffff"/><path d="M149.41 190.23 L152.71 193.72 L152.45 197.35 L146.37 197.35 L146.11 193.72 Z" fill="#00ffff"/><path d="M151.13 191.21 L154.43 194.71 L154.17 198.34 L148.10 198.34 L147.83 194.71 Z" fill="#00ffff"/><path d="M152.98 192.27 L156.28 195.77 L156.02 199.40 L149.95 199.40 L149.68 195.77 Z" fill="#00ffff"/><path d="M154.97 193.41 L158.27 196.90 L158.01 200.53 L151.94 200.53 L151.67 196.90 Z" fill="#00ffff"/><path d="M157.13 194.64 L160.43 198.13 L160.16 201.76 L154.09 201.76 L153.83 198.13 Z" fill="#00ffff"/><path d="M159.47 195.89 L162.77 199.39 L162.50 203.02 L156.43 203.02 L156.17 199.39 Z" fill="#00ffff"/><path d="M162.02 197.20 L165.32 200.70 L165.06 204.33 L158.99 204.33 L158.72 200.70 Z" fill="#00ffff"/><path d="M164.84 198.65 L168.14 202.15 L167.87 205.78 L161.80 205.78 L161.54 202.15 Z" fill="#00ffff"/><path d="M167.96 200.25 L171.26 203.75 L170.99 207.38 L164.92 207.38 L164.66 203.75 Z" fill="#00ffff"/><path d="M171.44 202.05 L174.74 205.54 L174.48 209.17 L168.41 209.17 L168.14 205.54 Z" fill="#00ffff"/><path d="M175.38 204.07 L178.68 207.57 L178.42 211.20 L172.34 211.20 L172.08 207.57 Z" fill="#00ffff"/><path d="M179.88 206.31 L183.18 209.80 L182.92 213.43 L176.84 213.43 L176.58 209.80 Z" fill="#00ffff"/><path d="M185.10 208.85 L188.40 212.35 L188.14 215.98 L182.06 215.98 L181.80 212.35 Z" fill="#00ffff"/><path d="M191.27 211.86 L194.57 215.36 L194.31 218.99 L188.24 218.99 L187.97 215.36 Z" fill="#00ffff"/><path d="M198.75 215.50 L202.05 219.00 L201.78 222.63 L195.71 222.63 L195.45 219.00 Z" fill="#00ffff"/><path d="M208.10 219.30 L211.40 222.80 L211.13 226.43 L205.06 226.43 L204.80 222.80 Z" fill="#00ffff"/><path d="M220.35 225.44 L223.65 228.94 L223.38 232.57 L217.31 232.57 L217.05 228.94 Z" fill="#00ffff"/><path d="M237.54 234.30 L240.84 237.80 L240.58 241.43 L234.50 241.43 L234.24 237.80 Z" fill="#00ffff"/><path d="M264.75 249.49 L268.05 252.99 L267.79 256.62 L261.72 256.62 L261.45 252.99 Z" fill="#00ffff"/><path d="M320.70 290.67 L324.00 294.17 L323.74 297.80 L317.66 297.80 L317.40 294.17 Z" fill="#00ffff"/>
<rect x="130.21" y="184.42" width="6.00" height="6.00" fill="#ff0000"/><rect x="131.05" y="184.90" width="6.00" height="6.00" fill="#ff0000"/><rect x="131.92" y="185.40" width="6.00" height="6.00" fill="#ff0000"/><rect x="132.83" y="185.92" width="6.00" height="6.00" fill="#ff0000"/><rect x="133.78" y="186.46" width="6.00" height="6.00" fill="#ff0000"/><rect x="134.77" y="187.03" width="6.00" height="6.00" fill="#ff0000"/><rect x="135.81" y="187.62" width="6.00" height="6.00" fill="#ff0000"/><rect x="136.90" y="188.24" width="6.00" height="6.00" fill="#ff0000"/><rect x="138.04" y="188.90" width="6.00" height="6.00" fill="#ff0000"/><rect x="139.25" y="189.58" width="6.00" height="6.00" fill="#ff0000"/>
<path d="M171.44 206.29 L175.44 210.99 L174.74 213.19 L168.14 213.19 L167.44 210.99 Z" fill="#ff0000"/><path d="M175.38 208.45 L179.38 213.15 L178.68 215.35 L172.08 215.35 L171.38 213.15 Z" fill="#ff0000"/><path d="M179.88 210.92 L183.88 215.62 L183.18 217.82 L176.58 217.82 L175.88 215.62 Z" fill="#ff0000"/><path d="M185.10 213.79 L189.10 218.49 L188.40 220.69 L181.80 220.69 L181.10 218.49 Z" fill="#ff0000"/><path d="M191.27 216.78 L195.27 221.48 L194.57 223.68 L187.97 223.68 L187.27 221.48 Z" fill="#ff0000"/><path d="M198.75 220.38 L202.75 225.08 L202.05 227.28 L195.45 227.28 L194.75 225.08 Z" fill="#ff0000"/><path d="M208.10 224.89 L212.10 229.59 L211.40 231.79 L204.80 231.79 L204.10 229.59 Z" fill="#ff0000"/><path d="M220.35 230.99 L224.35 235.69 L223.65 237.89 L217.05 237.89 L216.35 235.69 Z" fill="#ff0000"/><path d="M237.54 241.32 L241.54 246.02 L240.84 248.22 L234.24 248.22 L233.54 246.02 Z" fill="#ff0000"/><path d="M264.75 256.75 L268.75 261.45 L268.05 263.65 L261.45 263.65 L260.75 261.45 Z" fill="#ff0000"/>
<circle cx="142.25" cy="194.52" r="3.60" fill="#ff00ff"/><circle cx="143.52" cy="195.30" r="3.60" fill="#ff00ff"/><circle cx="144.86" cy="196.11" r="3.60" fill="#ff00ff"/><circle cx="146.29" cy="196.98" r="3.60" fill="#ff00ff"/><circle cx="147.80" cy="197.90" r="3.60" fill="#ff00ff"/><circle cx="149.41" cy="198.87" r="3.60" fill="#ff00ff"/><circle cx="151.13" cy="199.91" r="3.60" fill="#ff00ff"/><circle cx="152.98" cy="201.03" r="3.60" fill="#ff00ff"/><circle cx="154.97" cy="202.23" r="3.60" fill="#ff00ff"/><circle cx="157.13" cy="203.53" r="3.60" fill="#ff00ff"/><circle cx="159.47" cy="204.83" r="3.60" fill="#ff00ff"/><circle cx="162.02" cy="206.18" r="3.60" fill="#ff00ff"/><circle cx="164.84" cy="207.68" r="3.60" fill="#ff00ff"/><circle cx="167.96" cy="209.33" r="3.60" fill="#ff00ff"/><circle cx="171.44" cy="211.19" r="3.60" fill="#ff00ff"/>
<rect x="158.77" y="202.93" width="6.50" height="6.50" fill="#0000ff"/><rect x="161.59" y="204.43" width="6.50" height="6.50" fill="#0000ff"/><rect x="164.71" y="206.08" width="6.50" height="6.50" fill="#0000ff"/><rect x="168.19" y="207.94" width="6.50" height="6.50" fill="#0000ff"/>
<path d="M171.44 207.25 L174.84 210.85 L174.57 214.59 L168.32 214.59 L168.04 210.85 Z" fill="#007f00"/><path d="M175.38 209.41 L178.78 213.01 L178.51 216.75 L172.25 216.75 L171.98 213.01 Z" fill="#007f00"/><path d="M179.88 211.88 L183.28 215.48 L183.01 219.22 L176.75 219.22 L176.48 215.48 Z" fill="#007f00"/><path d="M185.10 214.75 L188.50 218.35 L188.23 222.09 L181.97 222.09 L181.70 218.35 Z" fill="#007f00"/><path d="M191.27 217.74 L194.67 221.34 L194.40 225.08 L188.14 225.08 L187.87 221.34 Z" fill="#007f00"/><path d="M198.75 221.33 L202.15 224.94 L201.88 228.68 L195.62 228.68 L195.35 224.94 Z" fill="#007f00"/><path d="M208.10 225.85 L211.50 229.45 L211.23 233.19 L204.97 233.19 L204.70 229.45 Z" fill="#007f00"/><path d="M220.35 231.94 L223.75 235.55 L223.47 239.29 L217.22 239.29 L216.95 235.55 Z" fill="#007f00"/><path d="M237.54 242.28 L240.94 245.88 L240.67 249.62 L234.41 249.62 L234.14 245.88 Z" fill="#007f00"/><path d="M264.75 257.70 L268.15 261.31 L267.88 265.05 L261.62 265.05 L261.35 261.31 Z" fill="#007f00"/>
<path d="M76.62 154.23 L84.76 158.91 L92.89 163.58 L101.03 168.26 L109.16 172.93 L117.30 177.61 L125.44 182.28 L133.57 186.96 L141.71 191.64 L149.84 196.31 L157.98 200.99 L166.12 205.66 L174.25 210.34 L182.39 215.01 L190.52 219.69 L198.66 224.36 L206.80 229.04 L214.93 233.72 L223.07 238.39 L231.20 243.07 L239.34 247.74 L247.48 252.42 L255.61 257.09 L263.75 261.77 L271.88 266.45 L280.02 271.12 L288.16 275.80 L296.29 280.47 L304.43 285.15 L312.56 289.82 L320.70 294.50" stroke="#7f7fff" stroke-width="1.1" stroke-dasharray="7.4 2 1.4 2" fill="none"/>
</g>
<path d="M49.50 136.24 h4.20 M320.70 136.24 h-4.20 M49.50 124.18 h4.20 M320.70 124.18 h-4.20 M49.50 112.12 h4.20 M320.70 112.12 h-4.20 M49.50 100.06 h4.20 M320.70 100.06 h-4.20 M49.50 88.00 h4.20 M320.70 88.00 h-4.20 M49.50 75.94 h4.20 M320.70 75.94 h-4.20 M49.50 63.88 h4.20 M320.70 63.88 h-4.20 M49.50 51.82 h4.20 M320.70 51.82 h-4.20 M49.50 39.76 h4.20 M320.70 39.76 h-4.20 M49.50 27.70 h4.20 M320.70 27.70 h-4.20 M49.50 15.64 h4.20 M320.70 15.64 h-4.20 M76.62 3.10 v4.20 M76.62 148.30 v-4.20 M103.74 3.10 v4.20 M103.74 148.30 v-4.20 M130.86 3.10 v4.20 M130.86 148.30 v-4.20 M157.98 3.10 v4.20 M157.98 148.30 v-4.20 M185.10 3.10 v4.20 M185.10 148.30 v-4.20 M212.22 3.10 v4.20 M212.22 148.30 v-4.20 M239.34 3.10 v4.20 M239.34 148.30 v-4.20 M266.46 3.10 v4.20 M266.46 148.30 v-4.20 M293.58 3.10 v4.20 M293.58 148.30 v-4.20 M49.50 282.39 h4.20 M320.70 282.39 h-4.20 M49.50 270.28 h4.20 M320.70 270.28 h-4.20 M49.50 258.17 h4.20 M320.70 258.17 h-4.20 M49.50 246.06 h4.20 M320.70 246.06 h-4.20 M49.50 233.95 h4.20 M320.70 233.95 h-4.20 M49.50 221.84 h4.20 M320.70 221.84 h-4.20 M49.50 209.73 h4.20 M320.70 209.73 h-4.20 M49.50 197.62 h4.20 M320.70 197.62 h-4.20 M49.50 185.51 h4.20 M320.70 185.51 h-4.20 M49.50 173.40 h4.20 M320.70 173.40 h-4.20 M49.50 161.29 h4.20 M320.70 161.29 h-4.20 M76.62 148.30 v4.20 M76.62 294.50 v-4.20 M103.74 148.30 v4.20 M103.74 294.50 v-4.20 M130.86 148.30 v4.20 M130.86 294.50 v-4.20 M157.98 148.30 v4.20 M157.98 294.50 v-4.20 M185.10 148.30 v4.20 M185.10 294.50 v-4.20 M212.22 148.30 v4.20 M212.22 294.50 v-4.20 M239.34 148.30 v4.20 M239.34 294.50 v-4.20 M266.46 148.30 v4.20 M266.46 294.50 v-4.20 M293.58 148.30 v4.20 M293.58 294.50 v-4.20" stroke="#000" stroke-width="1.15" fill="none"/>
<path d="M49.50 3.10 H320.70 V294.50 H49.50 Z M49.50 148.30 H320.70" stroke="#000" stroke-width="1.2" fill="none"/>
<path d="M320.70 144.24 L324.20 147.95 L323.92 151.80 L317.48 151.80 L317.20 147.95 Z" fill="#007f00"/>
<path d="M320.70 290.44 L324.20 294.15 L323.92 298.00 L317.48 298.00 L317.20 294.15 Z" fill="#007f00"/>
<rect x="59.5" y="77.9" width="30.1" height="62.5" fill="#fff" stroke="#000" stroke-width="1"/>
<rect x="59.5" y="211.4" width="34.4" height="65.9" fill="#fff" stroke="#000" stroke-width="1"/>
<path d="M280.5 44.8 H296" stroke="#000" stroke-width="1.1" stroke-dasharray="2.5 1.35" fill="none"/>
<path d="M280.5 57.3 H302" stroke="#000" stroke-width="1.1" stroke-dasharray="9 3.8" fill="none"/>
<path transform="translate(45.50 31.80) scale(0.990)" d="M0 0 L0 -10.5 L-1.05 -10.5 C-1.35 -9.2 -2.3 -8.45 -4.0 -8.35 L-4.0 -7.35 L-1.45 -7.35 L-1.45 0 Z" fill="#000"/>
<path transform="translate(45.50 177.50) scale(0.990)" d="M0 0 L0 -10.5 L-1.05 -10.5 C-1.35 -9.2 -2.3 -8.45 -4.0 -8.35 L-4.0 -7.35 L-1.45 -7.35 L-1.45 0 Z" fill="#000"/>
<path transform="translate(322.10 308.30) scale(0.990)" d="M0 0 L0 -10.5 L-1.05 -10.5 C-1.35 -9.2 -2.3 -8.45 -4.0 -8.35 L-4.0 -7.35 L-1.45 -7.35 L-1.45 0 Z" fill="#000"/>
<text transform="translate(48.40 93.30) scale(0.885 1)" font-size="16.50" text-anchor="end">0.5</text>
<text transform="translate(48.40 153.40) scale(0.885 1)" font-size="16.50" text-anchor="end">0</text>
<text transform="translate(48.40 239.25) scale(0.885 1)" font-size="16.50" text-anchor="end">0.5</text>
<text transform="translate(48.40 299.60) scale(0.885 1)" font-size="16.50" text-anchor="end">0</text>
<text transform="translate(50.00 308.60) scale(0.885 1)" font-size="16.50" text-anchor="middle">0</text>
<text transform="translate(185.60 308.60) scale(0.885 1)" font-size="16.50" text-anchor="middle">0.5</text>
<text x="75.20" y="90.10" font-size="8.70" text-anchor="middle">T<tspan font-size="5.5" dy="-4.2">*</tspan></text>
<text x="74.30" y="100.10" font-size="8.70" fill="#ff0000" text-anchor="middle" >0.6</text>
<text x="74.30" y="111.40" font-size="8.70" fill="#ff00ff" text-anchor="middle" >0.5</text>
<text x="74.30" y="124.00" font-size="8.70" fill="#0000ff" text-anchor="middle" >0.4</text>
<text x="74.30" y="136.10" font-size="8.70" fill="#007f00" text-anchor="middle" >0.3</text>
<text x="80.20" y="223.70" font-size="8.70" text-anchor="middle">T<tspan font-size="5.5" dy="-4.2">*</tspan></text>
<text x="78.50" y="232.20" font-size="8.70" fill="#ffa07a" text-anchor="middle" >1.0</text>
<text x="78.50" y="240.50" font-size="8.70" fill="#00ffff" text-anchor="middle" >0.8</text>
<text x="78.50" y="248.80" font-size="8.70" fill="#ff0000" text-anchor="middle" >0.6</text>
<text x="78.50" y="257.10" font-size="8.70" fill="#ff00ff" text-anchor="middle" >0.5</text>
<text x="78.50" y="265.40" font-size="8.70" fill="#0000ff" text-anchor="middle" >0.4</text>
<text x="78.50" y="273.70" font-size="8.70" fill="#007f00" text-anchor="middle" >0.3</text>
<text x="97.30" y="17.80" font-size="8.50" fill="#7f7fff" text-anchor="start" font-weight="bold">Eq.(10)</text>
<text x="251.70" y="23.90" font-size="8.60" fill="#000" text-anchor="start" >CNT</text>
<text x="251.70" y="48.70" font-size="8.60" fill="#000" text-anchor="start" >SP</text>
<text x="248.10" y="61.20" font-size="8.60" fill="#000" text-anchor="start" >MCNT</text>
<text x="293.20" y="23.90" font-size="14.20" fill="#000" text-anchor="start" >a</text>
<text x="293.20" y="165.60" font-size="14.40" fill="#000" text-anchor="start" >b</text>
<text x="176.3" y="332.3" font-family="'Liberation Serif',serif" font-style="italic" font-size="16.8">i<tspan font-size="10.3" dy="-7.2" dx="0.4">&#8722;1/3</tspan></text>
<text transform="translate(18.6 215.3) rotate(-90)" font-size="14.8">&#916;G<tspan font-size="9.5" dy="3">i</tspan><tspan dy="-3">(S=1)</tspan><tspan dx="2.7">/</tspan><tspan dx="3.3">(</tspan><tspan font-size="16.2">&#951;</tspan><tspan class="si" font-size="16" dx="4.0">i</tspan><tspan class="si" font-size="10.6" dy="-6" dx="5.3">2/3</tspan><tspan class="si" font-size="16" dy="6" dx="-0.1">kT</tspan><tspan dx="1.0">)</tspan></text></svg>
</body></html>
